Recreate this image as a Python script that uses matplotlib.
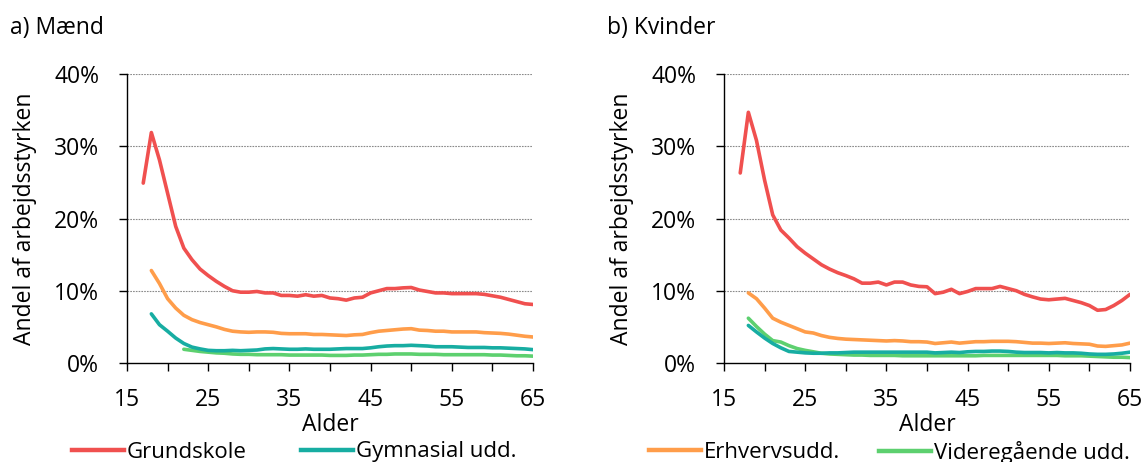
import matplotlib
matplotlib.use("Agg")
import matplotlib.pyplot as plt
from matplotlib.lines import Line2D

plt.rcParams['font.family'] = ['Open Sans', 'DejaVu Sans']

# ---- data (percent of labour force) ----
ages_m_grund = list(range(17, 66))
m_grund = [24.9, 31.9, 28.1, 23.5, 18.9, 15.9, 14.3, 13.0, 12.1, 11.3, 10.6, 10.0, 9.8, 9.8,
           9.9, 9.7, 9.7, 9.35, 9.35, 9.25, 9.45, 9.25, 9.35, 9.0, 8.9, 8.7, 9.0, 9.1, 9.7,
           10.0, 10.3, 10.3, 10.4, 10.45, 10.1, 9.9, 9.7, 9.7, 9.6, 9.6, 9.6, 9.6, 9.5, 9.3,
           9.1, 8.8, 8.5, 8.2, 8.1]
ages_m_erhv = list(range(18, 66))
m_erhv = [12.8, 11.0, 8.9, 7.6, 6.6, 6.0, 5.6, 5.3, 5.0, 4.65, 4.4, 4.3, 4.25, 4.3, 4.3,
          4.25, 4.1, 4.05, 4.05, 4.05, 3.95, 3.95, 3.9, 3.85, 3.8, 3.9, 3.95, 4.2, 4.4, 4.5,
          4.6, 4.7, 4.75, 4.55, 4.5, 4.4, 4.4, 4.3, 4.3, 4.3, 4.3, 4.2, 4.15, 4.1, 4.0, 3.85,
          3.7, 3.6]
ages_m_gym = list(range(18, 66))
m_gym = [6.8, 5.3, 4.4, 3.45, 2.7, 2.2, 1.95, 1.75, 1.7, 1.7, 1.75, 1.7, 1.75, 1.8, 1.95,
         2.0, 1.95, 1.9, 1.9, 1.95, 1.9, 1.9, 1.9, 1.95, 2.0, 2.0, 2.0, 2.1, 2.25, 2.35,
         2.4, 2.4, 2.45, 2.4, 2.35, 2.25, 2.25, 2.25, 2.2, 2.15, 2.15, 2.15, 2.1, 2.1, 2.05,
         2.0, 1.95, 1.85]
ages_m_vid = list(range(22, 66))
m_vid = [1.9, 1.75, 1.6, 1.5, 1.4, 1.35, 1.25, 1.2, 1.2, 1.15, 1.15, 1.15, 1.15, 1.1, 1.1,
         1.1, 1.1, 1.1, 1.05, 1.05, 1.05, 1.1, 1.1, 1.15, 1.2, 1.2, 1.25, 1.25, 1.25, 1.2,
         1.2, 1.2, 1.15, 1.15, 1.15, 1.15, 1.15, 1.15, 1.1, 1.1, 1.05, 1.0, 1.0, 0.95]

ages_k_grund = list(range(17, 66))
k_grund = [26.3, 34.7, 30.8, 25.3, 20.5, 18.4, 17.3, 16.1, 15.2, 14.4, 13.6, 13.0, 12.5,
           12.1, 11.65, 11.05, 11.05, 11.2, 10.8, 11.2, 11.2, 10.8, 10.6, 10.55, 9.6, 9.8,
           10.2, 9.6, 9.9, 10.3, 10.3, 10.3, 10.6, 10.3, 10.0, 9.5, 9.15, 8.85, 8.75, 8.85,
           8.95, 8.65, 8.35, 7.95, 7.3, 7.4, 7.95, 8.65, 9.5]
ages_k_erhv = list(range(18, 66))
k_erhv = [9.7, 8.9, 7.6, 6.2, 5.65, 5.2, 4.75, 4.3, 4.15, 3.8, 3.55, 3.4, 3.3, 3.25, 3.2,
          3.15, 3.1, 3.05, 3.1, 3.05, 2.95, 2.95, 2.9, 2.7, 2.8, 2.9, 2.75, 2.85, 2.95, 2.95,
          3.0, 3.0, 3.0, 2.95, 2.85, 2.75, 2.75, 2.7, 2.75, 2.8, 2.7, 2.65, 2.6, 2.35, 2.3,
          2.4, 2.5, 2.75]
ages_k_gym = list(range(18, 66))
k_gym = [5.2, 4.3, 3.45, 2.7, 2.1, 1.6, 1.5, 1.4, 1.35, 1.35, 1.4, 1.4, 1.45, 1.5, 1.5,
         1.5, 1.5, 1.5, 1.5, 1.5, 1.5, 1.5, 1.5, 1.4, 1.45, 1.5, 1.45, 1.55, 1.6, 1.6, 1.65,
         1.65, 1.6, 1.5, 1.45, 1.45, 1.45, 1.4, 1.45, 1.4, 1.4, 1.35, 1.25, 1.2, 1.2, 1.25,
         1.35, 1.5]
ages_k_vid = list(range(18, 66))
k_vid = [6.2, 5.05, 4.0, 3.1, 2.9, 2.4, 2.0, 1.75, 1.55, 1.35, 1.25, 1.2, 1.15, 1.1, 1.1,
         1.05, 1.05, 1.05, 1.05, 1.0, 1.0, 1.0, 1.0, 1.0, 1.0, 1.0, 1.0, 1.0, 1.0, 1.05, 1.05,
         1.05, 1.05, 1.05, 1.05, 1.05, 1.05, 1.05, 1.05, 1.0, 1.0, 1.0, 0.95, 0.9, 0.85, 0.8,
         0.8, 0.75]

labels = ["Grundskole", "Gymnasial udd.", "Erhvervsudd.", "Videregående udd."]
colors = {"Grundskole": "#F0504F", "Gymnasial udd.": "#17ADA2",
          "Erhvervsudd.": "#FF9D4A", "Videregående udd.": "#5DD06F"}

panels = [
    ("a) Mænd", [(ages_m_vid, m_vid, "Videregående udd."), (ages_m_gym, m_gym, "Gymnasial udd."),
                 (ages_m_erhv, m_erhv, "Erhvervsudd."), (ages_m_grund, m_grund, "Grundskole")]),
    ("b) Kvinder", [(ages_k_vid, k_vid, "Videregående udd."), (ages_k_gym, k_gym, "Gymnasial udd."),
                    (ages_k_erhv, k_erhv, "Erhvervsudd."), (ages_k_grund, k_grund, "Grundskole")]),
]

W, H = 1142, 462
fig = plt.figure(figsize=(W / 100, H / 100), dpi=100)
lefts = [127, 724]
fs = 16.5
lfs = 16

for (title, series), lpx in zip(panels, lefts):
    ax = fig.add_axes([lpx / W, 1 - 363 / H, 406 / W, 289 / H])
    for y in [10, 20, 30, 40]:
        ax.axhline(y, color="#8a8a8a", lw=0.8, ls=(0, (1.5, 1)), zorder=0)
    for xs, ys, name in series:
        ax.plot(xs, ys, color=colors[name], lw=2.6, solid_capstyle="round", zorder=3)
    ax.set_xlim(15, 65)
    ax.set_ylim(0, 40)
    ax.set_xticks(range(15, 66, 5))
    ax.set_xticklabels([str(v) if (v - 15) % 10 == 0 else "" for v in range(15, 66, 5)])
    ax.set_yticks([0, 10, 20, 30, 40])
    ax.set_yticklabels(["0%", "10%", "20%", "30%", "40%"])
    for s in ["top", "right"]:
        ax.spines[s].set_visible(False)
    for s in ["left", "bottom"]:
        ax.spines[s].set_linewidth(1.0)
        ax.spines[s].set_color("black")
    ax.tick_params(axis="y", length=6, width=1.0, labelsize=fs, pad=14)
    ax.tick_params(axis="x", length=6, width=1.0, labelsize=fs, pad=12)
    ax.set_xlabel("Alder", fontsize=fs, labelpad=1)
    ax.set_ylabel("Andel af arbejdsstyrken", fontsize=fs, labelpad=12)
    ax.text((lpx - 117) / W, 1 - 28 / H, title, transform=fig.transFigure,
            fontsize=fs, va="center", ha="left")

def handle(name):
    return Line2D([], [], color=colors[name], lw=3.2)

leg_kw = dict(frameon=False, fontsize=lfs, handlelength=2.35, handletextpad=0.12,
              borderaxespad=0, borderpad=0, loc="center left")
for name, xpx in zip(labels, [72, 301, 649, 879]):
    fig.legend([handle(name)], [name], bbox_to_anchor=(xpx / W, 1 - 452 / H), **leg_kw)

fig.savefig("out.png", dpi=100)
